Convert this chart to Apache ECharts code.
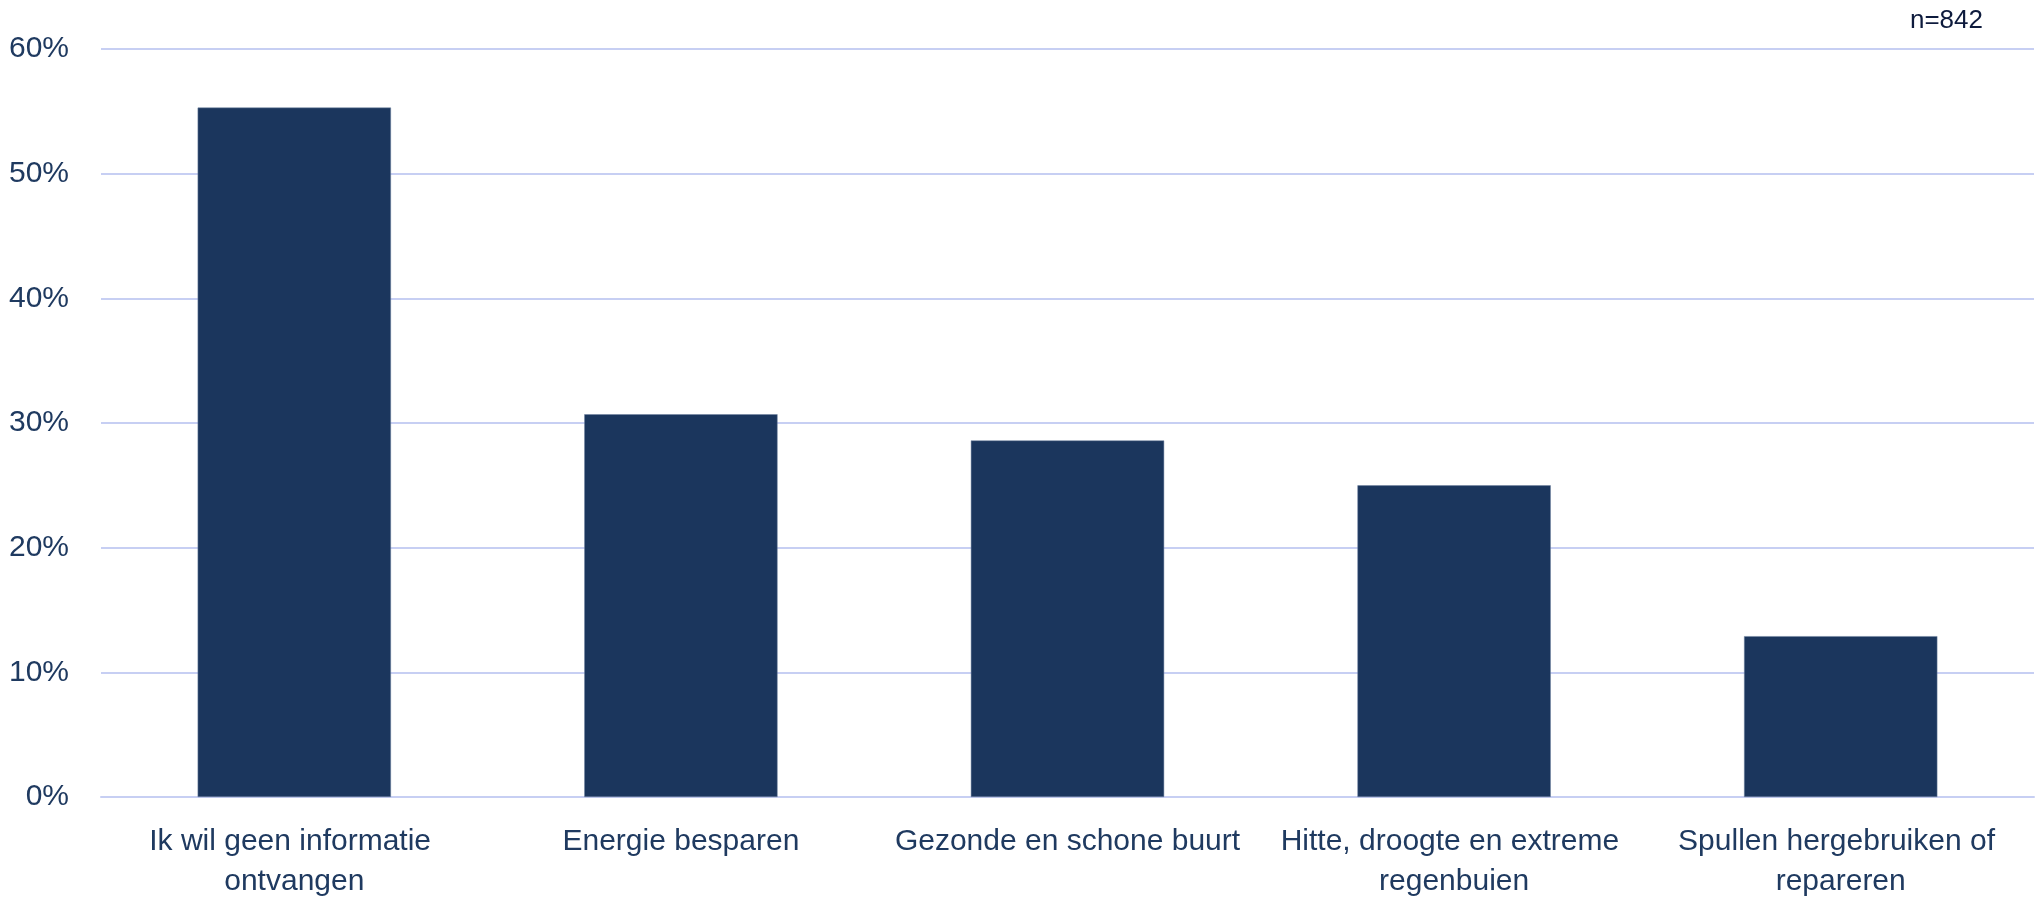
<!DOCTYPE html>
<html>
<head>
<meta charset="utf-8">
<script src="https://cdn.jsdelivr.net/npm/echarts@6/dist/echarts.min.js"></script>
<style>
  html, body { margin: 0; padding: 0; background: #fff; }
  #chart { width: 2038px; height: 897px; }
</style>
</head>
<body>
<div id="chart"></div>
<script>
// categorieen en percentages (n=842)
var categories = ['Ik wil geen informatie ontvangen', 'Energie besparen', 'Gezonde en schone buurt', 'Hitte, droogte en extreme regenbuien', 'Spullen hergebruiken of repareren'];
var values = [55.3, 30.7, 28.6, 25.0, 12.9];
var yTicks = [0, 10, 20, 30, 40, 50, 60];

var textColor = '#1f3a60';
var gridColor = '#c7cff3';

var myChart = echarts.init(document.getElementById('chart'));
var option = {
  backgroundColor: '#fff',
  animation: false,
  graphic: [{
    type: 'text',
    right: 55,
    top: 8,
    style: { text: 'n=842', fill: '#0e1b3d', font: '26px "Liberation Sans", Arial, sans-serif' }
  }],
  grid: { left: 101, right: 4, top: 49, bottom: 100, containLabel: false, outerBoundsMode: 'none' },
  xAxis: {
    type: 'category',
    data: categories,
    axisTick: { show: false },
    axisLine: { show: true, lineStyle: { color: gridColor, width: 2 } },
    axisLabel: {
      color: textColor,
      fontFamily: '"Liberation Sans", Arial, sans-serif',
      fontSize: 30,
      lineHeight: 40,
      margin: 25,
      width: 372,
      overflow: 'break',
      interval: 0
    }
  },
  yAxis: {
    type: 'value',
    min: yTicks[0],
    max: yTicks[yTicks.length - 1],
    interval: 10,
    axisLine: { show: false },
    axisTick: { show: false },
    splitLine: { lineStyle: { color: gridColor, width: 2 } },
    axisLabel: {
      color: textColor,
      fontFamily: '"Liberation Sans", Arial, sans-serif',
      fontSize: 30,
      margin: 32,
      formatter: '{value}%'
    }
  },
  series: [{
    type: 'bar',
    data: values,
    barWidth: '50%',
    itemStyle: { color: '#1b365d', borderColor: '#6f82a0', borderWidth: 0.5 }
  }]
};
myChart.setOption(option);
</script>
</body>
</html>
